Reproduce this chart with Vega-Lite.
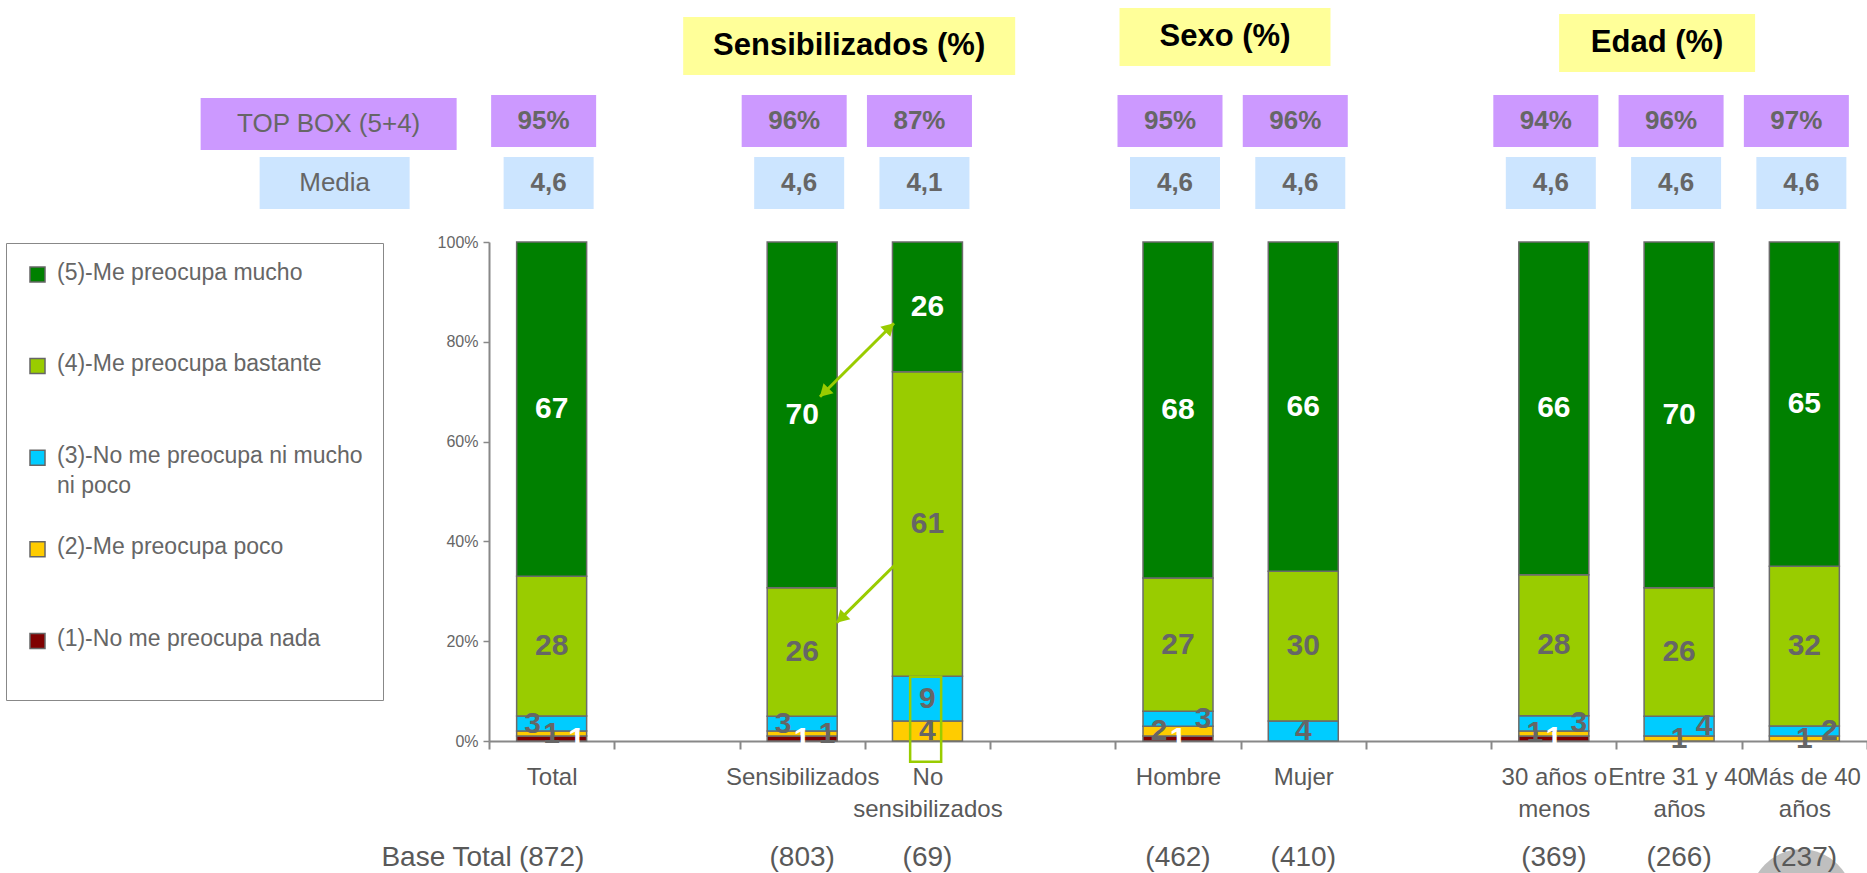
{
  "$schema": "https://vega.github.io/schema/vega-lite/v6.json",
  "width": 1378,
  "height": 499,
  "autosize": {"type": "none"},
  "padding": {"left": 489, "top": 242, "right": 0, "bottom": 132},
  "background": "white",
  "config": {"view": {"stroke": null}, "font": "Liberation Sans"},
  "datasets": {
    "bars": [
      {"category": "Total", "answer": "(1)-No me preocupa nada", "level": 1, "value": 1},
      {"category": "Total", "answer": "(2)-Me preocupa poco", "level": 2, "value": 1},
      {"category": "Total", "answer": "(3)-No me preocupa ni mucho ni poco", "level": 3, "value": 3},
      {"category": "Total", "answer": "(4)-Me preocupa bastante", "level": 4, "value": 28},
      {"category": "Total", "answer": "(5)-Me preocupa mucho", "level": 5, "value": 67},
      {"category": "Sensibilizados", "answer": "(1)-No me preocupa nada", "level": 1, "value": 1},
      {"category": "Sensibilizados", "answer": "(2)-Me preocupa poco", "level": 2, "value": 1},
      {"category": "Sensibilizados", "answer": "(3)-No me preocupa ni mucho ni poco", "level": 3, "value": 3},
      {"category": "Sensibilizados", "answer": "(4)-Me preocupa bastante", "level": 4, "value": 26},
      {"category": "Sensibilizados", "answer": "(5)-Me preocupa mucho", "level": 5, "value": 70},
      {"category": "No sensibilizados", "answer": "(2)-Me preocupa poco", "level": 2, "value": 4},
      {"category": "No sensibilizados", "answer": "(3)-No me preocupa ni mucho ni poco", "level": 3, "value": 9},
      {"category": "No sensibilizados", "answer": "(4)-Me preocupa bastante", "level": 4, "value": 61},
      {"category": "No sensibilizados", "answer": "(5)-Me preocupa mucho", "level": 5, "value": 26},
      {"category": "Hombre", "answer": "(1)-No me preocupa nada", "level": 1, "value": 1},
      {"category": "Hombre", "answer": "(2)-Me preocupa poco", "level": 2, "value": 2},
      {"category": "Hombre", "answer": "(3)-No me preocupa ni mucho ni poco", "level": 3, "value": 3},
      {"category": "Hombre", "answer": "(4)-Me preocupa bastante", "level": 4, "value": 27},
      {"category": "Hombre", "answer": "(5)-Me preocupa mucho", "level": 5, "value": 68},
      {"category": "Mujer", "answer": "(3)-No me preocupa ni mucho ni poco", "level": 3, "value": 4},
      {"category": "Mujer", "answer": "(4)-Me preocupa bastante", "level": 4, "value": 30},
      {"category": "Mujer", "answer": "(5)-Me preocupa mucho", "level": 5, "value": 66},
      {"category": "30 años o menos", "answer": "(1)-No me preocupa nada", "level": 1, "value": 1},
      {"category": "30 años o menos", "answer": "(2)-Me preocupa poco", "level": 2, "value": 1},
      {"category": "30 años o menos", "answer": "(3)-No me preocupa ni mucho ni poco", "level": 3, "value": 3},
      {"category": "30 años o menos", "answer": "(4)-Me preocupa bastante", "level": 4, "value": 28},
      {"category": "30 años o menos", "answer": "(5)-Me preocupa mucho", "level": 5, "value": 66},
      {"category": "Entre 31 y 40 años", "answer": "(2)-Me preocupa poco", "level": 2, "value": 1},
      {"category": "Entre 31 y 40 años", "answer": "(3)-No me preocupa ni mucho ni poco", "level": 3, "value": 4},
      {"category": "Entre 31 y 40 años", "answer": "(4)-Me preocupa bastante", "level": 4, "value": 26},
      {"category": "Entre 31 y 40 años", "answer": "(5)-Me preocupa mucho", "level": 5, "value": 70},
      {"category": "Más de 40 años", "answer": "(2)-Me preocupa poco", "level": 2, "value": 1},
      {"category": "Más de 40 años", "answer": "(3)-No me preocupa ni mucho ni poco", "level": 3, "value": 2},
      {"category": "Más de 40 años", "answer": "(4)-Me preocupa bastante", "level": 4, "value": 32},
      {"category": "Más de 40 años", "answer": "(5)-Me preocupa mucho", "level": 5, "value": 65}
    ],
    "groups": [
      {"category": "Total", "topbox": "95%", "media": "4,6", "base": "(872)"},
      {"category": "Sensibilizados", "topbox": "96%", "media": "4,6", "base": "(803)"},
      {"category": "No sensibilizados", "topbox": "87%", "media": "4,1", "base": "(69)"},
      {"category": "Hombre", "topbox": "95%", "media": "4,6", "base": "(462)"},
      {"category": "Mujer", "topbox": "96%", "media": "4,6", "base": "(410)"},
      {"category": "30 años o menos", "topbox": "94%", "media": "4,6", "base": "(369)"},
      {"category": "Entre 31 y 40 años", "topbox": "96%", "media": "4,6", "base": "(266)"},
      {"category": "Más de 40 años", "topbox": "97%", "media": "4,6", "base": "(237)"}
    ]
  },
  "layer": [
    {
      "data": {"name": "bars"},
      "mark": {"type": "bar", "width": 70, "stroke": "#6b6b6b", "strokeWidth": 1.5},
      "encoding": {
        "x": {"field": "category", "type": "nominal", "title": null, "sort": null,
          "scale": {"domain": ["Total", " ", "Sensibilizados", "No sensibilizados", "  ", "Hombre", "Mujer", "   ", "30 años o menos", "Entre 31 y 40 años", "Más de 40 años"], "paddingInner": 0, "paddingOuter": 0},
          "axis": {"title": null, "tickBand": "extent", "labelAngle": 0, "labelFontSize": 24, "labelColor": "#595959", "labelPadding": 16, "labelLineHeight": 32, "labelOverlap": false, "labelBound": false, "labelLimit": 400, "tickSize": 8, "tickColor": "#888888", "tickWidth": 2, "domainColor": "#888888", "domainWidth": 2,
            "labelExpr": "datum.label == 'No sensibilizados' ? ['No', 'sensibilizados'] : datum.label == '30 años o menos' ? ['30 años o', 'menos'] : datum.label == 'Entre 31 y 40 años' ? ['Entre 31 y 40', 'años'] : datum.label == 'Más de 40 años' ? ['Más de 40', 'años'] : datum.label"}},
        "y": {"field": "value", "type": "quantitative", "stack": "normalize", "title": null,
          "scale": {"domain": [0, 1]},
          "axis": {"title": null, "values": [0, 0.2, 0.4, 0.6, 0.8, 1], "format": ".0%", "labelFontSize": 16, "labelColor": "#666666", "tickSize": 6, "tickColor": "#888888", "tickWidth": 1.5, "domainColor": "#888888", "domainWidth": 2, "grid": false, "labelPadding": 5}},
        "color": {"field": "answer", "type": "nominal",
          "scale": {"domain": ["(5)-Me preocupa mucho", "(4)-Me preocupa bastante", "(3)-No me preocupa ni mucho ni poco", "(2)-Me preocupa poco", "(1)-No me preocupa nada"], "range": ["#008000", "#99CC00", "#00CCFF", "#FFCC00", "#800000"]},
          "legend": {"title": " ", "titleOrient": "bottom", "titleFontSize": 12, "titlePadding": 18, "orient": "none", "legendX": -483, "legendY": 1, "direction": "vertical", "symbolType": "square", "symbolSize": 225, "symbolStrokeColor": "#666666", "symbolStrokeWidth": 1.5, "labelFontSize": 23, "labelColor": "#666666", "labelOffset": 8, "labelLimit": 400, "padding": 20, "rowPadding": 37.6, "gridAlign": "all", "fillColor": "white", "strokeColor": "#888888", "labelBaseline": "top",
            "labelExpr": "datum.label == '(3)-No me preocupa ni mucho ni poco' ? ['(3)-No me preocupa ni mucho', 'ni poco'] : datum.label",
            "encode": {"labels": {"update": {"dy": {"value": -13}, "lineHeight": {"value": 30}}}}}},
        "order": {"field": "level", "type": "quantitative", "sort": "ascending"}
      }
    },
    {
      "data": {"name": "bars"},
      "mark": {"type": "text", "fontSize": 30, "fontWeight": "bold", "baseline": "middle", "align": "center"},
      "encoding": {
        "x": {"field": "category", "type": "nominal", "title": null, "sort": null, "scale": {"domain": ["Total", " ", "Sensibilizados", "No sensibilizados", "  ", "Hombre", "Mujer", "   ", "30 años o menos", "Entre 31 y 40 años", "Más de 40 años"], "paddingInner": 0, "paddingOuter": 0}},
        "y": {"field": "value", "type": "quantitative", "stack": "normalize", "bandPosition": 0.5, "title": null, "scale": {"domain": [0, 1]}},
        "detail": {"field": "level", "type": "nominal"},
        "order": {"field": "level", "type": "quantitative", "sort": "ascending"},
        "text": {"condition": {"test": "datum.level >= 4 || (datum.level == 3 && (datum.category == 'No sensibilizados' || datum.category == 'Mujer')) || (datum.level == 2 && (datum.category == 'Total' || datum.category == 'No sensibilizados' || datum.category == 'Entre 31 y 40 años' || datum.category == 'Más de 40 años')) || (datum.level == 1 && datum.category != 'Total')", "field": "value", "type": "quantitative"}, "value": ""},
        "color": {"condition": {"test": "datum.level == 5 || datum.level == 1", "value": "white"}, "value": "#666666"}
      }
    },
    {
      "data": {"name": "bars"},
      "mark": {"type": "text", "fontSize": 30, "fontWeight": "bold", "baseline": "middle", "align": "center", "dx": -19},
      "encoding": {
        "x": {"field": "category", "type": "nominal", "title": null, "sort": null, "scale": {"domain": ["Total", " ", "Sensibilizados", "No sensibilizados", "  ", "Hombre", "Mujer", "   ", "30 años o menos", "Entre 31 y 40 años", "Más de 40 años"], "paddingInner": 0, "paddingOuter": 0}},
        "y": {"field": "value", "type": "quantitative", "stack": "normalize", "bandPosition": 0.5, "title": null, "scale": {"domain": [0, 1]}},
        "detail": {"field": "level", "type": "nominal"},
        "order": {"field": "level", "type": "quantitative", "sort": "ascending"},
        "text": {"condition": {"test": "(datum.level == 3 && (datum.category == 'Total' || datum.category == 'Sensibilizados')) || (datum.level == 2 && (datum.category == 'Hombre' || datum.category == '30 años o menos'))", "field": "value", "type": "quantitative"}, "value": ""},
        "color": {"condition": {"test": "datum.level == 5 || datum.level == 1", "value": "white"}, "value": "#666666"}
      }
    },
    {
      "data": {"name": "bars"},
      "mark": {"type": "text", "fontSize": 30, "fontWeight": "bold", "baseline": "middle", "align": "center", "dx": 25},
      "encoding": {
        "x": {"field": "category", "type": "nominal", "title": null, "sort": null, "scale": {"domain": ["Total", " ", "Sensibilizados", "No sensibilizados", "  ", "Hombre", "Mujer", "   ", "30 años o menos", "Entre 31 y 40 años", "Más de 40 años"], "paddingInner": 0, "paddingOuter": 0}},
        "y": {"field": "value", "type": "quantitative", "stack": "normalize", "bandPosition": 0.5, "title": null, "scale": {"domain": [0, 1]}},
        "detail": {"field": "level", "type": "nominal"},
        "order": {"field": "level", "type": "quantitative", "sort": "ascending"},
        "text": {"condition": {"test": "(datum.level == 3 && (datum.category == 'Hombre' || datum.category == '30 años o menos' || datum.category == 'Entre 31 y 40 años' || datum.category == 'Más de 40 años')) || (datum.level == 2 && datum.category == 'Sensibilizados') || (datum.level == 1 && datum.category == 'Total')", "field": "value", "type": "quantitative"}, "value": ""},
        "color": {"condition": {"test": "datum.level == 5 || datum.level == 1", "value": "white"}, "value": "#666666"}
      }
    },
    {
      "data": {"name": "groups"},
      "encoding": {
        "x": {"field": "category", "type": "nominal", "title": null, "sort": null, "scale": {"domain": ["Total", " ", "Sensibilizados", "No sensibilizados", "  ", "Hombre", "Mujer", "   ", "30 años o menos", "Entre 31 y 40 años", "Más de 40 años"], "paddingInner": 0, "paddingOuter": 0}}
      },
      "layer": [
        {"mark": {"type": "bar", "width": 105, "xOffset": -8, "color": "#CC99FF"},
         "encoding": {"y": {"datum": 1.2946, "type": "quantitative", "title": null, "scale": {"domain": [0, 1]}}, "y2": {"datum": 1.1904}}},
        {"mark": {"type": "text", "xOffset": -8, "fontSize": 26, "fontWeight": "bold", "color": "#666666", "baseline": "middle"},
         "encoding": {"y": {"datum": 1.2425, "type": "quantitative", "title": null, "scale": {"domain": [0, 1]}}, "text": {"field": "topbox"}}},
        {"mark": {"type": "bar", "width": 90, "xOffset": -3, "color": "#CCE5FF"},
         "encoding": {"y": {"datum": 1.1703, "type": "quantitative", "title": null, "scale": {"domain": [0, 1]}}, "y2": {"datum": 1.0661}}},
        {"mark": {"type": "text", "xOffset": -3, "fontSize": 26, "fontWeight": "bold", "color": "#666666", "baseline": "middle"},
         "encoding": {"y": {"datum": 1.1182, "type": "quantitative", "title": null, "scale": {"domain": [0, 1]}}, "text": {"field": "media"}}}
      ]
    },
    {
      "data": {"values": [{"label": "TOP BOX (5+4)", "row": "top"}, {"label": "Media", "row": "media"}, {"label": "Base Total", "row": "base"}]},
      "encoding": {
        "x": {"datum": "Total", "type": "nominal", "title": null, "scale": {"domain": ["Total", " ", "Sensibilizados", "No sensibilizados", "  ", "Hombre", "Mujer", "   ", "30 años o menos", "Entre 31 y 40 años", "Más de 40 años"], "paddingInner": 0, "paddingOuter": 0}}
      },
      "layer": [
        {"transform": [{"filter": "datum.row == 'top'"}],
         "mark": {"type": "bar", "width": 256, "xOffset": -223, "color": "#CC99FF"},
         "encoding": {"y": {"datum": 1.2886, "type": "quantitative", "title": null, "scale": {"domain": [0, 1]}}, "y2": {"datum": 1.1844}}},
        {"transform": [{"filter": "datum.row == 'top'"}],
         "mark": {"type": "text", "xOffset": -223, "fontSize": 26, "color": "#666666", "baseline": "middle"},
         "encoding": {"y": {"datum": 1.2365, "type": "quantitative", "title": null, "scale": {"domain": [0, 1]}}, "text": {"field": "label"}}},
        {"transform": [{"filter": "datum.row == 'media'"}],
         "mark": {"type": "bar", "width": 150, "xOffset": -217, "color": "#CCE5FF"},
         "encoding": {"y": {"datum": 1.1703, "type": "quantitative", "title": null, "scale": {"domain": [0, 1]}}, "y2": {"datum": 1.0661}}},
        {"transform": [{"filter": "datum.row == 'media'"}],
         "mark": {"type": "text", "xOffset": -217, "fontSize": 26, "color": "#666666", "baseline": "middle"},
         "encoding": {"y": {"datum": 1.1182, "type": "quantitative", "title": null, "scale": {"domain": [0, 1]}}, "text": {"field": "label"}}},
        {"transform": [{"filter": "datum.row == 'base'"}],
         "mark": {"type": "text", "xOffset": -40, "fontSize": 28, "color": "#595959", "baseline": "middle", "align": "right"},
         "encoding": {"y": {"datum": -0.2345, "type": "quantitative", "title": null, "scale": {"domain": [0, 1]}}, "text": {"field": "label"}}}
      ]
    },
    {
      "data": {"values": [{"shape": "circle"}]},
      "mark": {"type": "point", "shape": "circle", "filled": true, "color": "#BFBFBF", "opacity": 1, "size": 10600, "xOffset": -3},
      "encoding": {
        "x": {"datum": "Más de 40 años", "type": "nominal", "title": null, "scale": {"domain": ["Total", " ", "Sensibilizados", "No sensibilizados", "  ", "Hombre", "Mujer", "   ", "30 años o menos", "Entre 31 y 40 años", "Más de 40 años"], "paddingInner": 0, "paddingOuter": 0}},
        "y": {"datum": -0.3202, "type": "quantitative", "title": null, "scale": {"domain": [0, 1]}}
      }
    },
    {
      "data": {"name": "groups"},
      "mark": {"type": "text", "fontSize": 28, "color": "#595959", "baseline": "middle"},
      "encoding": {
        "x": {"field": "category", "type": "nominal", "title": null, "sort": null, "scale": {"domain": ["Total", " ", "Sensibilizados", "No sensibilizados", "  ", "Hombre", "Mujer", "   ", "30 años o menos", "Entre 31 y 40 años", "Más de 40 años"], "paddingInner": 0, "paddingOuter": 0}},
        "y": {"datum": -0.2345, "type": "quantitative", "title": null, "scale": {"domain": [0, 1]}},
        "text": {"field": "base"}
      }
    },
    {
      "data": {"values": [{"title": "Sensibilizados (%)"}]},
      "encoding": {
        "x": {"datum": "Sensibilizados", "type": "nominal", "title": null, "scale": {"domain": ["Total", " ", "Sensibilizados", "No sensibilizados", "  ", "Hombre", "Mujer", "   ", "30 años o menos", "Entre 31 y 40 años", "Más de 40 años"], "paddingInner": 0, "paddingOuter": 0}}
      },
      "layer": [
        {"mark": {"type": "bar", "width": 332, "xOffset": 47, "color": "#FFFF99"},
         "encoding": {"y": {"datum": 1.4509, "type": "quantitative", "title": null, "scale": {"domain": [0, 1]}}, "y2": {"datum": 1.3347}}},
        {"mark": {"type": "text", "xOffset": 47, "fontSize": 31, "fontWeight": "bold", "color": "black", "baseline": "middle"},
         "encoding": {"y": {"datum": 1.3928, "type": "quantitative", "title": null, "scale": {"domain": [0, 1]}}, "text": {"field": "title"}}}
      ]
    },
    {
      "data": {"values": [{"title": "Sexo (%)"}]},
      "encoding": {
        "x": {"datum": "Hombre", "type": "nominal", "title": null, "scale": {"domain": ["Total", " ", "Sensibilizados", "No sensibilizados", "  ", "Hombre", "Mujer", "   ", "30 años o menos", "Entre 31 y 40 años", "Más de 40 años"], "paddingInner": 0, "paddingOuter": 0}}
      },
      "layer": [
        {"mark": {"type": "bar", "width": 211, "xOffset": 47, "color": "#FFFF99"},
         "encoding": {"y": {"datum": 1.4689, "type": "quantitative", "title": null, "scale": {"domain": [0, 1]}}, "y2": {"datum": 1.3527}}},
        {"mark": {"type": "text", "xOffset": 47, "fontSize": 31, "fontWeight": "bold", "color": "black", "baseline": "middle"},
         "encoding": {"y": {"datum": 1.4108, "type": "quantitative", "title": null, "scale": {"domain": [0, 1]}}, "text": {"field": "title"}}}
      ]
    },
    {
      "data": {"values": [{"title": "Edad (%)"}]},
      "encoding": {
        "x": {"datum": "Entre 31 y 40 años", "type": "nominal", "title": null, "scale": {"domain": ["Total", " ", "Sensibilizados", "No sensibilizados", "  ", "Hombre", "Mujer", "   ", "30 años o menos", "Entre 31 y 40 años", "Más de 40 años"], "paddingInner": 0, "paddingOuter": 0}}
      },
      "layer": [
        {"mark": {"type": "bar", "width": 196, "xOffset": -22, "color": "#FFFF99"},
         "encoding": {"y": {"datum": 1.4569, "type": "quantitative", "title": null, "scale": {"domain": [0, 1]}}, "y2": {"datum": 1.3407}}},
        {"mark": {"type": "text", "xOffset": -22, "fontSize": 31, "fontWeight": "bold", "color": "black", "baseline": "middle"},
         "encoding": {"y": {"datum": 1.3988, "type": "quantitative", "title": null, "scale": {"domain": [0, 1]}}, "text": {"field": "title"}}}
      ]
    },
    {
      "data": {"values": [{"note": "arrows"}]},
      "layer": [
        {"mark": {"type": "rule", "color": "#99CC00", "strokeWidth": 3, "xOffset": -33.5, "x2Offset": 17.8},
         "encoding": {
           "x": {"datum": "No sensibilizados", "type": "nominal", "title": null, "scale": {"domain": ["Total", " ", "Sensibilizados", "No sensibilizados", "  ", "Hombre", "Mujer", "   ", "30 años o menos", "Entre 31 y 40 años", "Más de 40 años"], "paddingInner": 0, "paddingOuter": 0}},
           "x2": {"datum": "Sensibilizados"},
           "y": {"datum": 0.8371, "type": "quantitative", "title": null, "scale": {"domain": [0, 1]}},
           "y2": {"datum": 0.6900}}},
        {"mark": {"type": "rule", "color": "#99CC00", "strokeWidth": 3, "xOffset": -20.5, "x2Offset": 34.5},
         "encoding": {
           "x": {"datum": "No sensibilizados", "type": "nominal", "title": null, "scale": {"domain": ["Total", " ", "Sensibilizados", "No sensibilizados", "  ", "Hombre", "Mujer", "   ", "30 años o menos", "Entre 31 y 40 años", "Más de 40 años"], "paddingInner": 0, "paddingOuter": 0}},
           "x2": {"datum": "Sensibilizados"},
           "y": {"datum": 0.3768, "type": "quantitative", "title": null, "scale": {"domain": [0, 1]}},
           "y2": {"datum": 0.2371}}},
        {"mark": {"type": "point", "shape": "triangle-up", "filled": true, "opacity": 1, "color": "#99CC00", "size": 200, "angle": 45, "xOffset": -37.8, "yOffset": 4.2},
         "encoding": {
           "x": {"datum": "No sensibilizados", "type": "nominal", "title": null, "scale": {"domain": ["Total", " ", "Sensibilizados", "No sensibilizados", "  ", "Hombre", "Mujer", "   ", "30 años o menos", "Entre 31 y 40 años", "Más de 40 años"], "paddingInner": 0, "paddingOuter": 0}},
           "y": {"datum": 0.8371, "type": "quantitative", "title": null, "scale": {"domain": [0, 1]}}}},
        {"mark": {"type": "point", "shape": "triangle-up", "filled": true, "opacity": 1, "color": "#99CC00", "size": 200, "angle": 225, "xOffset": 22, "yOffset": -4.2},
         "encoding": {
           "x": {"datum": "Sensibilizados", "type": "nominal", "title": null, "scale": {"domain": ["Total", " ", "Sensibilizados", "No sensibilizados", "  ", "Hombre", "Mujer", "   ", "30 años o menos", "Entre 31 y 40 años", "Más de 40 años"], "paddingInner": 0, "paddingOuter": 0}},
           "y": {"datum": 0.6900, "type": "quantitative", "title": null, "scale": {"domain": [0, 1]}}}},
        {"mark": {"type": "point", "shape": "triangle-up", "filled": true, "opacity": 1, "color": "#99CC00", "size": 200, "angle": 225, "xOffset": 38.8, "yOffset": -4.2},
         "encoding": {
           "x": {"datum": "Sensibilizados", "type": "nominal", "title": null, "scale": {"domain": ["Total", " ", "Sensibilizados", "No sensibilizados", "  ", "Hombre", "Mujer", "   ", "30 años o menos", "Entre 31 y 40 años", "Más de 40 años"], "paddingInner": 0, "paddingOuter": 0}},
           "y": {"datum": 0.2371, "type": "quantitative", "title": null, "scale": {"domain": [0, 1]}}}},
        {"mark": {"type": "bar", "width": 31, "xOffset": -1.8, "filled": false, "color": "#99CC00", "strokeWidth": 2.5},
         "encoding": {
           "x": {"datum": "No sensibilizados", "type": "nominal", "title": null, "scale": {"domain": ["Total", " ", "Sensibilizados", "No sensibilizados", "  ", "Hombre", "Mujer", "   ", "30 años o menos", "Entre 31 y 40 años", "Más de 40 años"], "paddingInner": 0, "paddingOuter": 0}},
           "y": {"datum": 0.1289, "type": "quantitative", "title": null, "scale": {"domain": [0, 1]}},
           "y2": {"datum": -0.0415}}}
      ]
    }
  ]
}
